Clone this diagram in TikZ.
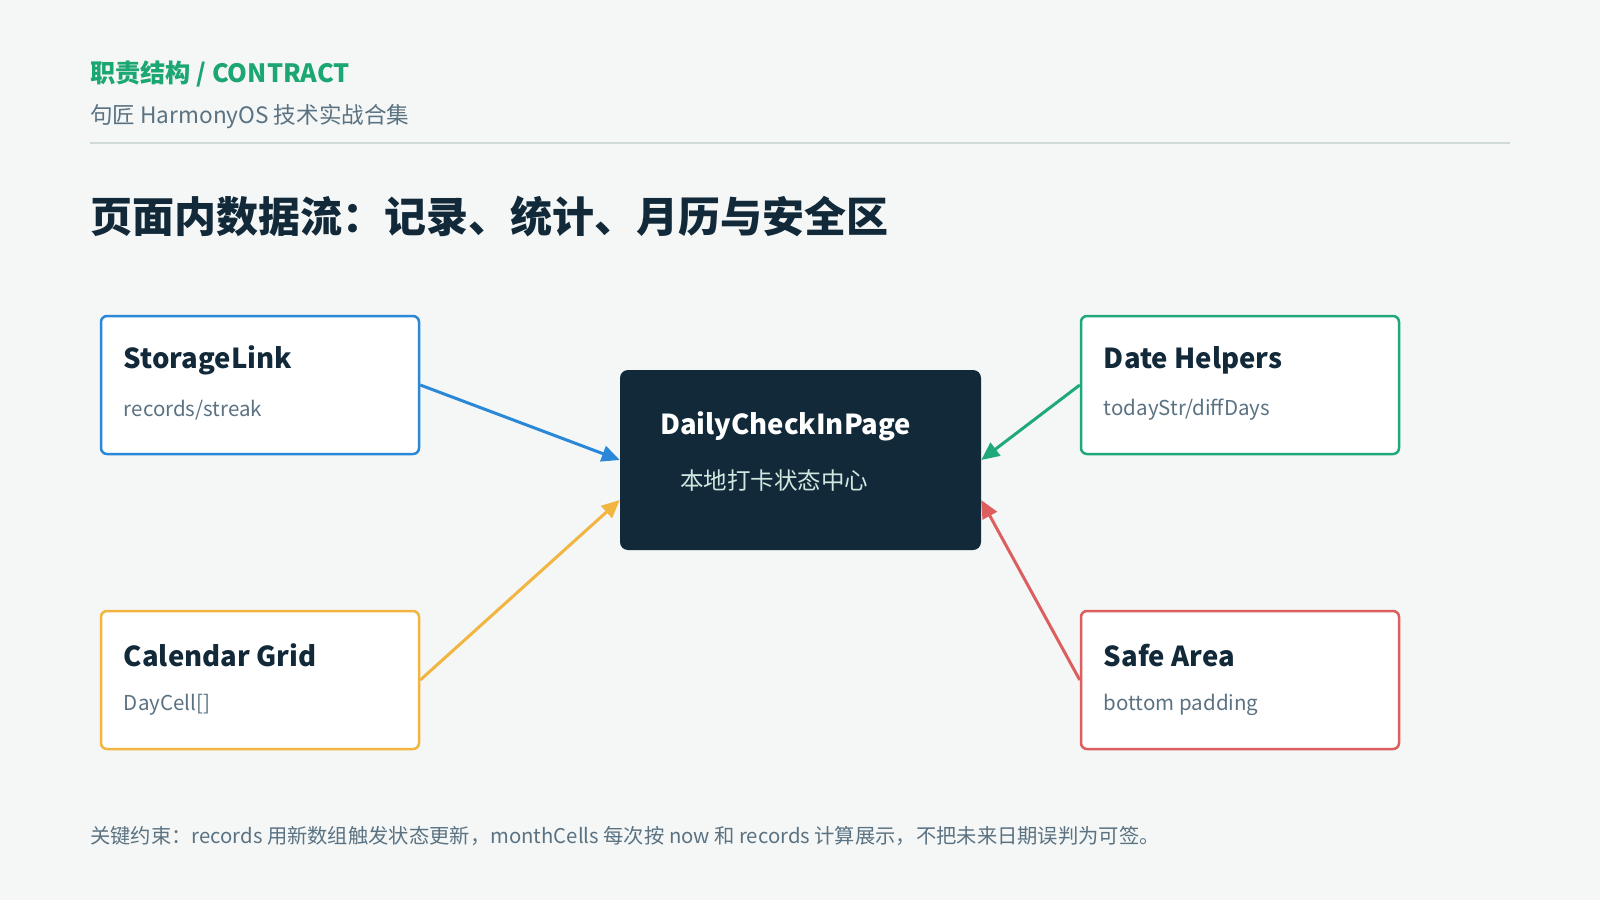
\documentclass[tikz,border=0pt]{standalone}
\usepackage{fontspec}
\setmainfont{Noto Sans CJK SC}
\usetikzlibrary{arrows.meta,calc}
\definecolor{bg}{HTML}{F4F7F6}
\definecolor{ink}{HTML}{12293A}
\definecolor{muted}{HTML}{5B7282}
\definecolor{brand}{HTML}{1BA672}
\definecolor{rule}{HTML}{CFDCD8}
\definecolor{cblue}{HTML}{2B87D8}
\definecolor{corange}{HTML}{F2B540}
\definecolor{cgreen}{HTML}{1FA97A}
\definecolor{cred}{HTML}{DC5E5E}
\definecolor{mint}{HTML}{CFE8E0}
\tikzset{
  card/.style={draw=#1, line width=2.5pt, fill=white, rounded corners=6pt,
    minimum width=318pt, minimum height=138pt, inner sep=0pt},
  hub/.style={fill=ink, rounded corners=8pt, minimum width=361pt,
    minimum height=180pt, inner sep=0pt},
  cardtitle/.style={anchor=west, inner sep=0pt, text=ink, font=\bfseries\fontsize{27.5}{32}\selectfont},
  cardsub/.style={anchor=west, inner sep=0pt, text=muted, font=\fontsize{20.5}{24}\selectfont},
  flow/.style={draw=#1, line width=3pt, -{Triangle[length=18pt,width=16pt]}},
}
\begin{document}
\begin{tikzpicture}[x=1pt,y=-1pt]
\useasboundingbox[fill=bg] (0,0) rectangle (1600,900);
% header
\node[anchor=west, inner sep=0pt, text=brand, font=\bfseries\fontsize{25.2}{29}\selectfont] (kicker) at (90,74) {职责结构 / CONTRACT};
\node[anchor=west, inner sep=0pt, text=muted, font=\fontsize{22.6}{26}\selectfont] (series) at (90,117) {句匠 HarmonyOS 技术实战合集};
\draw[rule, line width=2pt] (90,143) -- (1510,143);
\node[anchor=west, inner sep=0pt, text=ink, font=\bfseries\fontsize{42}{48}\selectfont] (title) at (90,216) {页面内数据流：记录、统计、月历与安全区};
% cards
\node[card=cblue] (sl) at (260,385) {};
\node[card=corange] (cg) at (260,680) {};
\node[card=cgreen] (dh) at (1240,385) {};
\node[card=cred] (sa) at (1240,680) {};
\node[hub] (cb) at (800.5,460) {};
\node[cardtitle] (slt) at ($(sl.north west)+(24,46)$) {StorageLink};
\node[cardsub] (sls) at ($(sl.north west)+(24,95)$) {records/streak};
\node[cardtitle] (cgt) at ($(cg.north west)+(24,46)$) {Calendar Grid};
\node[cardsub] (cgs) at ($(cg.north west)+(24,95)$) {DayCell[]};
\node[cardtitle] (dht) at ($(dh.north west)+(24,46)$) {Date Helpers};
\node[cardsub] (dhs) at ($(dh.north west)+(24,95)$) {todayStr/diffDays};
\node[cardtitle] (sat) at ($(sa.north west)+(24,46)$) {Safe Area};
\node[cardsub] (sas) at ($(sa.north west)+(24,95)$) {bottom padding};
\node[anchor=west, inner sep=0pt, text=white, font=\bfseries\fontsize{27.5}{32}\selectfont] (cbt) at ($(cb.north west)+(40,57)$) {DailyCheckInPage};
\node[anchor=west, inner sep=0pt, text=mint, font=\fontsize{23.5}{27}\selectfont] (cbs) at ($(cb.north west)+(60,111)$) {本地打卡状态中心};
% connectors
\coordinate (inL1) at (cb.west);
\coordinate (inL2) at ([yshift=-40pt]cb.west);
\coordinate (inR1) at (cb.east);
\coordinate (inR2) at ([yshift=-40pt]cb.east);
\draw[flow=cblue] (sl.east) -- (inL1);
\draw[flow=corange] (cg.east) -- (inL2);
\draw[flow=cgreen] (dh.west) -- (inR1);
\draw[flow=cred] (sa.west) -- (inR2);
% footer
\node[anchor=west, inner sep=0pt, text=muted, font=\fontsize{20.3}{24}\selectfont] (note) at (90,836) {关键约束：records 用新数组触发状态更新，monthCells 每次按 now 和 records 计算展示，不把未来日期误判为可签。};
\end{tikzpicture}
\end{document}
